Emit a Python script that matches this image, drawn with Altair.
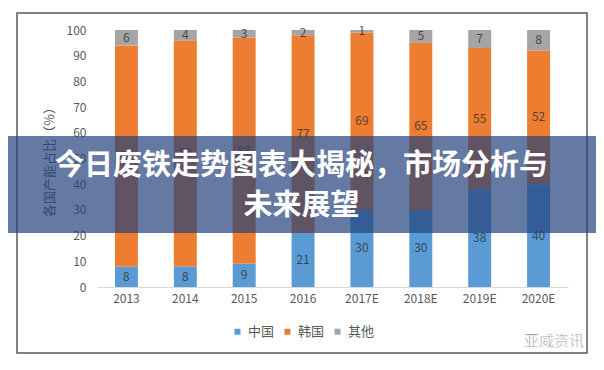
import altair as alt
import pandas as pd

years = ["2013", "2014", "2015", "2016", "2017E", "2018E", "2019E", "2020E"]
china = [8, 8, 9, 21, 30, 30, 38, 40]
korea = [86, 88, 88, 77, 69, 65, 55, 52]
other = [6, 4, 3, 2, 1, 5, 7, 8]
series = ["中国", "韩国", "其他"]
colors = ["#5B9BD5", "#ED7D31", "#A5A5A5"]
y_ticks = [0, 10, 20, 30, 40, 50, 60, 70, 80, 90, 100]
y_title = "各国产能占比（%）"
banner_lines = ["今日废铁走势图表大揭秘，市场分析与", "未来展望"]
watermark = "亚威资讯"

rows = []
for i, y in enumerate(years):
    for k, (name, vals) in enumerate(zip(series, [china, korea, other])):
        rows.append({"year": y, "series": name, "value": vals[i], "ord": k})
df = pd.DataFrame(rows)

FONT = "Noto Sans CJK SC"
W, H = 471, 257

base = alt.Chart(df).transform_stack(
    stack="value", groupby=["year"], sort=[alt.SortField("ord")], as_=["v0", "v1"]
).transform_calculate(mid="(datum.v0 + datum.v1) / 2")

xaxis = alt.Axis(
    title=None, labelAngle=0, labelFontSize=12, labelColor="#595959",
    labelFont=FONT, domainColor="#D9D9D9", domainWidth=1, ticks=False,
    tickSize=0, labelPadding=6, grid=False,
)
yaxis = alt.Axis(
    title=y_title, values=y_ticks, labelFontSize=12,
    labelColor="#595959", labelFont=FONT, domain=False, ticks=False,
    tickSize=0, labelPadding=11, grid=False, titleFont=FONT,
    titleFontSize=13, titleFontWeight="normal", titleColor="#595959",
    titlePadding=10, labelOverlap=False, labelFlush=False,
)
xscale = alt.Scale(paddingInner=0.61, paddingOuter=0.305)
yscale = alt.Scale(domain=[0, 100], nice=False)

bars = base.mark_bar().encode(
    x=alt.X("year:N", sort=years, scale=xscale, axis=xaxis),
    y=alt.Y("v0:Q", scale=yscale, axis=yaxis),
    y2="v1:Q",
    color=alt.Color(
        "series:N",
        scale=alt.Scale(domain=series, range=colors),
        legend=alt.Legend(
            title=None, orient="none", direction="horizontal", legendX=134,
            legendY=295, symbolType="square", symbolSize=36, symbolStrokeWidth=0,
            labelFontSize=13, labelColor="#595959", labelFont=FONT,
            columnPadding=6, labelOffset=4,
        ),
    ),
)

labels = base.mark_text(
    font=FONT, fontSize=12, color="#333333", opacity=0.8, baseline="middle"
).encode(
    x=alt.X("year:N", sort=years, scale=xscale, axis=xaxis),
    y=alt.Y("mid:Q", scale=yscale, axis=yaxis),
    text=alt.Text("value:Q"),
)

one = alt.Data(values=[{"k": 1}])

frame = alt.Chart(one).mark_rect(
    fillOpacity=0, stroke="#595959", strokeWidth=1.5
).encode(
    x=alt.value(-80), x2=alt.value(490), y=alt.value(-17), y2=alt.value(323)
)

banner = alt.Chart(one).mark_rect(color="#23417A", opacity=0.7).encode(
    x=alt.value(-89), x2=alt.value(508), y=alt.value(106), y2=alt.value(203)
)

line1 = alt.Chart(one).mark_text(
    font=FONT, fontSize=29, fontWeight="bold", color="white",
    align="center", baseline="middle",
).encode(x=alt.value(204.5), y=alt.value(136), text=alt.value(banner_lines[0]))

line2 = alt.Chart(one).mark_text(
    font=FONT, fontSize=29, fontWeight="bold", color="white",
    align="center", baseline="middle",
).encode(x=alt.value(204.5), y=alt.value(175.5), text=alt.value(banner_lines[1]))

wm = alt.Chart(one).mark_text(
    font=FONT, fontSize=15, color="#7F7F7F", align="center", baseline="middle",
    stroke="white", strokeWidth=0.5,
).encode(x=alt.value(457), y=alt.value(311), text=alt.value(watermark))

chart = alt.layer(frame, bars, labels, banner, line1, line2, wm).properties(
    width=W, height=H,
    autosize=alt.AutoSizeParams(type="none"),
    padding={"left": 89, "top": 22, "right": 28, "bottom": 75},
    background="white",
).configure_view(stroke=None)

chart.save("out.html", embed_options={"renderer": "svg", "actions": False})
